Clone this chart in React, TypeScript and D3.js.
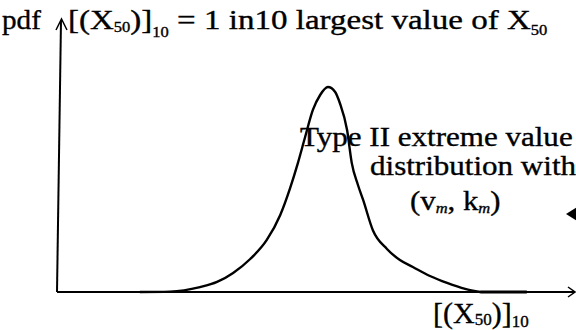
import React from "react";
import * as d3 from "d3";

// pdf curve of the 1-in-10 largest value of X50 (arbitrary units)
const curveX = [16.0, 21.8, 27.6, 30.9, 34.0, 37.3, 40.5, 43.1, 45.0, 46.5, 47.9, 49.4, 50.8, 52.3, 53.7, 54.6, 56.0, 56.9, 58.1, 59.1, 61.0, 63.7, 66.2, 68.7, 72.0, 75.3, 78.8, 81.7];
const curveY = [0, 0.002, 0.024, 0.049, 0.093, 0.161, 0.254, 0.376, 0.507, 0.629, 0.756, 0.888, 0.961, 1.0, 0.976, 0.922, 0.79, 0.63, 0.522, 0.449, 0.3, 0.21, 0.156, 0.122, 0.078, 0.044, 0.015, 0];
// thick run of the upper tail along the axis
const tailRun = [81.7, 90.7];

const W = 576;
const H = 330;
const FONT = "'Liberation Serif', 'Times New Roman', serif";

export default function App() {
  const x = d3.scaleLinear().domain([0, 100]).range([57, 575]);
  const y = d3.scaleLinear().domain([0, 1]).range([292, 87]);

  const pts: [number, number][] = curveX.map((v, i) => [v, curveY[i]]);
  const line = d3
    .line<[number, number]>()
    .x((d) => x(d[0]))
    .y((d) => y(d[1]))
    .curve(d3.curveMonotoneX);

  const y0 = y(0);
  const ink = { stroke: "#000", strokeWidth: 0.35 };

  return (
    <svg
      width={W}
      height={H}
      style={{ position: "absolute", left: 0, top: 0, background: "#fff" }}
      fontFamily={FONT}
      fill="#000"
    >
      {/* axes */}
      <line x1={x(0)} y1={y0} x2={61} y2={20} stroke="#000" strokeWidth={2} />
      <polyline points="56,30 61.5,19 67,30" fill="none" stroke="#000" strokeWidth={1.5} />
      <line x1={x(0)} y1={y0} x2={574} y2={y0} stroke="#000" strokeWidth={1.8} />
      <polyline points="568,287 575,292 568,297" fill="none" stroke="#000" strokeWidth={1.5} />

      {/* distribution curve */}
      <path d={line(pts) ?? ""} fill="none" stroke="#000" strokeWidth={2.4} />
      <line x1={x(tailRun[0])} y1={y0} x2={x(tailRun[1])} y2={y0} stroke="#000" strokeWidth={3.2} />

      {/* pointer to the curve */}
      <path d="M566,214 L577,207 L577,221 Z" fill="#000" />

      {/* top caption */}
      <g transform="translate(2,29) scale(1.08,1)">
        <text fontSize={27} {...ink}>pdf</text>
      </g>
      <g transform="translate(68,29) scale(1.18,1)">
        <text fontSize={28} {...ink}>
          [(X
          <tspan fontSize={14} dy={3}>50</tspan>
          <tspan dy={-3}>)]</tspan>
          <tspan fontSize={14} dy={8}>10</tspan>
          <tspan dy={-8}> = 1 in10 largest value of X</tspan>
          <tspan fontSize={14} dy={6}>50</tspan>
        </text>
      </g>

      {/* curve annotation */}
      <g transform="translate(300,146) scale(1.15,1)">
        <text fontSize={27} {...ink}>Type II extreme value</text>
      </g>
      <g transform="translate(370,175) scale(1.15,1)">
        <text fontSize={27} {...ink}>distribution with</text>
      </g>
      <g transform="translate(410,210) scale(1.1,1)">
        <text fontSize={28} {...ink}>
          (v
          <tspan fontSize={15} fontStyle="italic" dy={3}>m</tspan>
          <tspan dy={-3}>, k</tspan>
          <tspan fontSize={15} fontStyle="italic" dy={3}>m</tspan>
          <tspan dy={-3}>)</tspan>
        </text>
      </g>

      {/* x-axis label */}
      <g transform="translate(433,323)">
        <text fontSize={30} {...ink}>
          [(X
          <tspan fontSize={17} dy={2}>50</tspan>
          <tspan dy={-2}>)]</tspan>
          <tspan fontSize={17} dy={4}>10</tspan>
        </text>
      </g>
    </svg>
  );
}
